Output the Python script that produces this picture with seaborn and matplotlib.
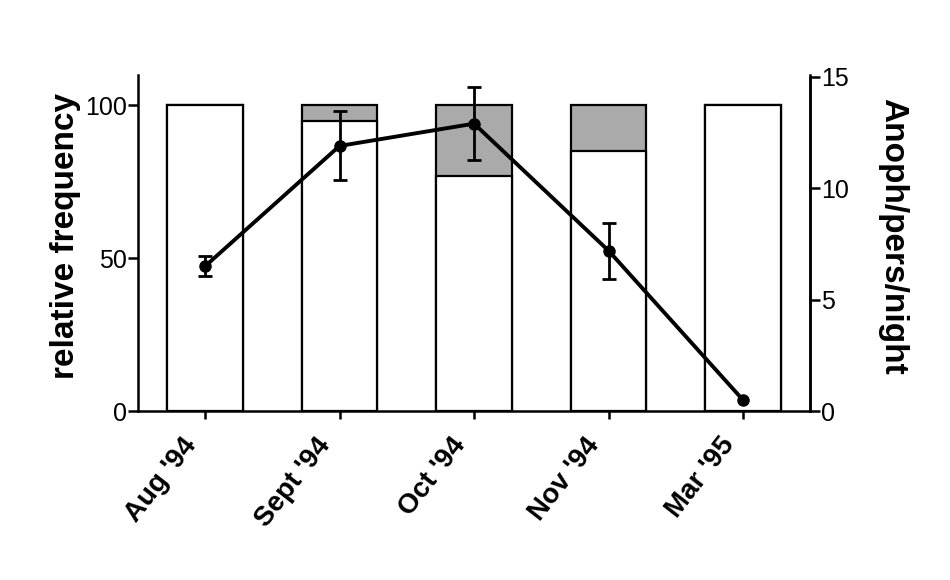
import matplotlib
matplotlib.use("Agg")
import matplotlib.pyplot as plt
import matplotlib.transforms as mtransforms
import seaborn as sns
import pandas as pd
import numpy as np

# values
months = ["Aug '94", "Sept '94", "Oct '94", "Nov '94", "Mar '95"]
white_part = [100, 95, 77, 85, 100]
total = [100, 100, 100, 100, 100]
anoph = [6.5, 11.9, 12.9, 7.2, 0.5]
anoph_err = [0.45, 1.55, 1.65, 1.25, 0]

sns.set_style("ticks")
plt.rcParams['font.family'] = ['Liberation Sans', 'DejaVu Sans']
plt.rcParams['text.color'] = 'black'
plt.rcParams['axes.labelcolor'] = 'black'
plt.rcParams['xtick.color'] = 'black'
plt.rcParams['ytick.color'] = 'black'
plt.rcParams['axes.edgecolor'] = 'black'

df = pd.DataFrame({'month': months, 'white': white_part, 'total': total})

fig, ax = plt.subplots(figsize=(9.5, 5.8), dpi=100)
fig.subplots_adjust(left=0.145, right=0.853, bottom=0.291, top=0.871)

# gray bar first (full height), white part on top of it
sns.barplot(data=df, x='month', y='total', color='#aaaaaa', edgecolor='black',
            linewidth=1.6, width=0.56, saturation=1, ax=ax)
sns.barplot(data=df, x='month', y='white', color='white', edgecolor='black',
            linewidth=1.6, width=0.56, saturation=1, ax=ax)

ax.set_ylim(0, 110)
ax.set_yticks([0, 50, 100])
ax.set_xlim(-0.5, 4.5)
ax.set_xlabel('')
ax.set_ylabel('relative frequency', fontsize=24, fontweight='bold')
ax.yaxis.set_label_coords(-0.085, 0.52)
ax.tick_params(axis='y', labelsize=18, width=1.8, length=7, pad=1)
ax.tick_params(axis='x', width=1.8, length=6, pad=0)
offset = mtransforms.ScaledTranslation(-0.24, -0.13, fig.dpi_scale_trans)
for lab in ax.get_xticklabels():
    lab.set_rotation(52)
    lab.set_ha('right')
    lab.set_va('top')
    lab.set_rotation_mode('anchor')
    lab.set_fontsize(20)
    lab.set_fontweight('bold')
    lab.set_transform(lab.get_transform() + offset)
for s in ['left', 'bottom', 'right']:
    ax.spines[s].set_linewidth(1.8)
ax.spines['top'].set_visible(False)

# right axis - anopheles per person per night
ax2 = ax.twinx()
xpos = np.arange(len(months))
ax2.plot(xpos, anoph, color='black', lw=2.8, marker='o', markersize=8)
has_err = [e > 0 for e in anoph_err]
ax2.errorbar(xpos[has_err], np.array(anoph)[has_err],
             yerr=np.array(anoph_err)[has_err], fmt='none', ecolor='black',
             capsize=5, capthick=2, elinewidth=2)
ax2.set_ylim(0, 15.09)
ax2.set_yticks([0, 5, 10, 15])
ax2.set_ylabel('Anoph/pers/night', fontsize=24, fontweight='bold', rotation=270,
               va='bottom')
ax2.yaxis.set_label_coords(1.10, 0.52)
ax2.tick_params(axis='y', labelsize=18, width=1.8, length=7, pad=1)
ax2.spines['right'].set_linewidth(1.8)
ax2.spines['top'].set_visible(False)
ax2.spines['left'].set_visible(False)
ax2.spines['bottom'].set_visible(False)
ax2.spines['right'].set_bounds(0, 15)

fig.savefig('out.png', dpi=100)
